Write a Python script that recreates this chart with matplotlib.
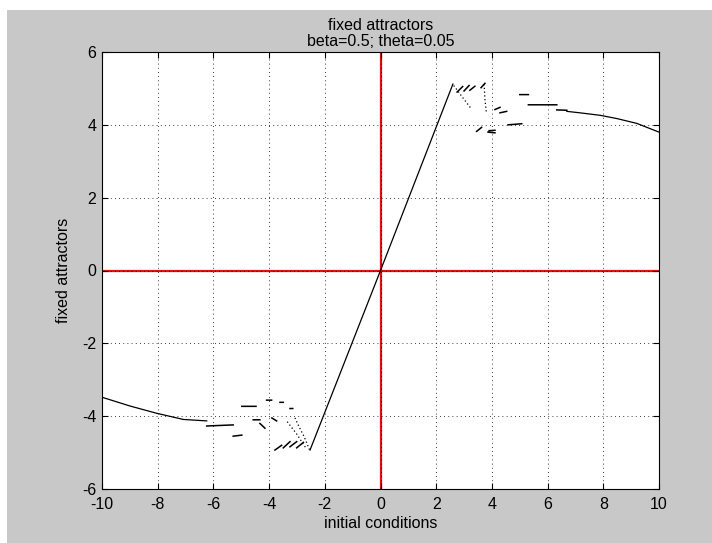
import numpy as np
import matplotlib
matplotlib.use('Agg')
import matplotlib.pyplot as plt
from matplotlib.patches import Rectangle

plt.rcParams['font.family'] = ['Liberation Sans', 'DejaVu Sans']
plt.rcParams['axes.unicode_minus'] = False

# rama lineal central
lin_x = [-2.53, 0.0, 2.60]
lin_y = [-4.93, 0.0, 5.12]

# colas suaves a izquierda y derecha
izq_x = [-10.0, -9.0, -8.04, -7.08, -6.24]
izq_y = [-3.48, -3.72, -3.92, -4.09, -4.13]
der_x = [6.69, 7.16, 7.90, 8.50, 9.20, 10.0]
der_y = [4.37, 4.33, 4.26, 4.17, 4.04, 3.80]

# tramos cortos (escalones y guiones) : x0, x1, y0, y1
tramo_x0 = [-6.24, -5.29, -4.98, -4.09, -3.61, -3.25, -4.57, -4.33, -3.90,
            -3.79, -3.49, -3.25, -3.01,
            2.75, 3.00, 3.21, 3.61,
            3.45, 3.86, 3.90, 4.11, 4.29, 4.58, 5.00, 5.31, 6.33]
tramo_x1 = [-5.29, -4.98, -4.47, -3.91, -3.49, -3.15, -4.33, -4.15, -3.73,
            -3.55, -3.25, -3.01, -2.77,
            2.95, 3.18, 3.39, 3.75,
            3.63, 4.11, 4.11, 4.29, 4.53, 5.07, 5.31, 6.33, 6.69]
tramo_y0 = [-4.27, -4.55, -3.73, -3.56, -3.62, -3.79, -4.10, -4.20, -4.05,
            -4.93, -4.87, -4.84, -4.87,
            4.90, 4.93, 4.95, 5.02,
            3.82, 3.80, 3.84, 4.42, 4.33, 4.00, 4.83, 4.55, 4.41]
tramo_y1 = [-4.24, -4.52, -3.73, -3.56, -3.62, -3.79, -4.10, -4.33, -4.13,
            -4.80, -4.70, -4.70, -4.72,
            5.05, 5.08, 5.06, 5.14,
            3.93, 3.78, 3.85, 4.48, 4.37, 4.03, 4.83, 4.55, 4.40]

# saltos punteados cerca de los vertices
punt_x = [[-2.55, -2.75, -2.95, -3.10], [-2.70, -3.00, -3.35], [2.63, 2.95, 3.25], [3.72, 3.75, 3.80]]
punt_y = [[-4.92, -4.55, -4.25, -4.00], [-4.85, -4.50, -4.15], [5.08, 4.75, 4.45], [5.12, 4.70, 4.35]]

xt = [-10, -8, -6, -4, -2, 0, 2, 4, 6, 8, 10]
yt = [-6, -4, -2, 0, 2, 4, 6]

fig = plt.figure(figsize=(7.12, 5.43), dpi=100)
fig.patch.set_facecolor('white')
fig.patches.append(Rectangle((7/712, 0), 1, 1 - 10/543, transform=fig.transFigure,
                             facecolor='#c8c8c8', edgecolor='none', zorder=-10))

ax = fig.add_axes([102/712, 54/543, 557/712, 437/543])
ax.set_facecolor('white')

ax.axhline(0, color='#e01010', lw=1.6, zorder=1)
ax.axvline(0, color='#e01010', lw=1.6, zorder=1)

ax.plot(lin_x, lin_y, color='k', lw=0.9, zorder=3)
ax.plot(izq_x, izq_y, color='k', lw=0.9, zorder=3)
ax.plot(der_x, der_y, color='k', lw=0.9, zorder=3)

sx, sy = [], []
for a, b, c, d in zip(tramo_x0, tramo_x1, tramo_y0, tramo_y1):
    sx += [a, b, np.nan]
    sy += [c, d, np.nan]
ax.plot(sx, sy, color='k', lw=1.1, zorder=3)

for px, py in zip(punt_x, punt_y):
    ax.plot(px, py, color='k', lw=0.9, ls=(0, (1, 2)), zorder=3)

ax.set_xlim(-10, 10)
ax.set_ylim(-6, 6)
ax.set_xticks(xt)
ax.set_yticks(yt)
ax.grid(True, color='k', ls=(0, (1, 4)), lw=0.6)
ax.tick_params(direction='in', top=True, right=True, length=4, labelsize=11.5)
ax.tick_params(axis='x', pad=6)
ax.tick_params(axis='y', pad=4)
for s in ax.spines.values():
    s.set_linewidth(0.8)

ax.set_xlabel('initial conditions', fontsize=11.5, labelpad=3)
ax.set_ylabel('fixed attractors', fontsize=11.5, labelpad=8)
ax.set_title('fixed attractors\nbeta=0.5; theta=0.05', fontsize=11.5, linespacing=1.15, pad=4)

fig.savefig('out.png', dpi=100, facecolor=fig.get_facecolor())
